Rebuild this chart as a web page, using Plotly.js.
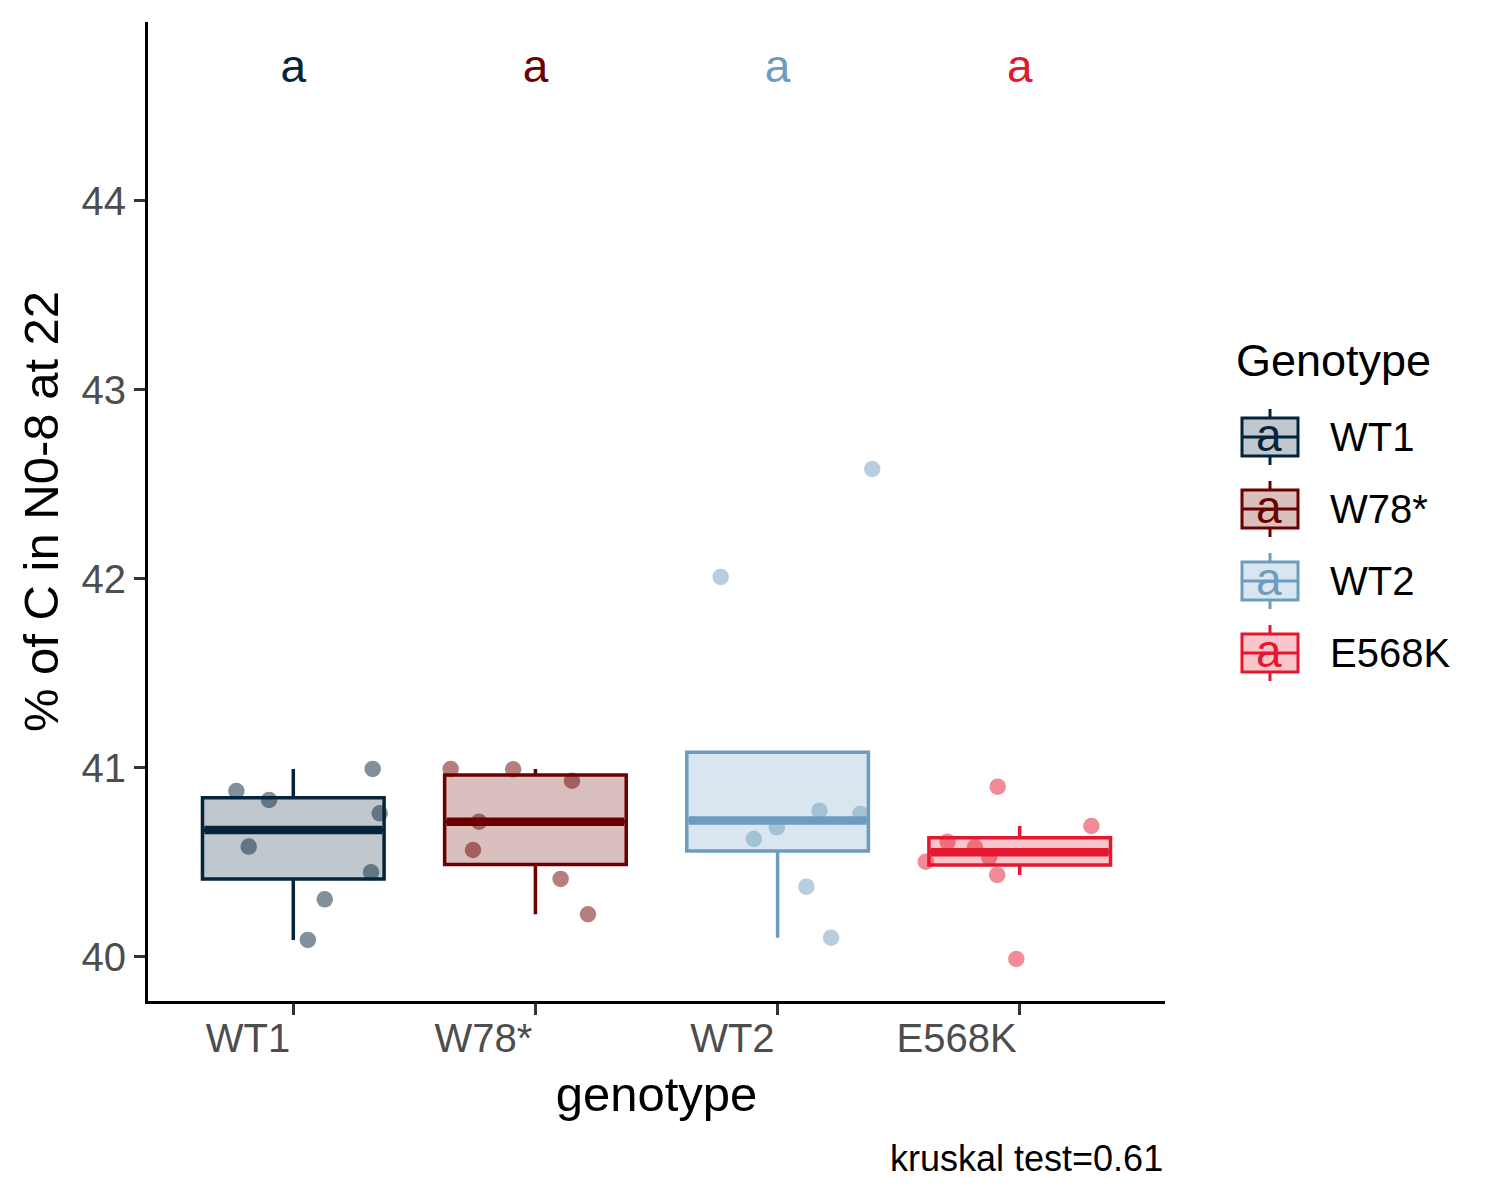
<!DOCTYPE html>
<html>
<head>
<meta charset="utf-8">
<script src="https://cdn.plot.ly/plotly-3.0.1.min.js"></script>
<style>
  html, body { margin: 0; padding: 0; background: #fff; }
  #chart { width: 1500px; height: 1200px; }
</style>
</head>
<body>
<div id="chart"></div>
<script>
// genotypes and colours
const genotypes = ['WT1', 'W78*', 'WT2', 'E568K'];
const colors = ['#03243A', '#6B0000', '#6D9DBE', '#E3172F'];

// % of C values per genotype
const wt1Values   = [40.995, 40.878, 40.831, 40.760, 40.584, 40.448, 40.305, 40.090];
const w78Values   = [40.995, 40.993, 40.933, 40.716, 40.566, 40.413, 40.226];
const wt2Values   = [40.774, 40.757, 40.686, 40.624, 40.372, 40.102, 42.011, 42.582];
const e568kValues = [40.901, 40.693, 40.610, 40.580, 40.527, 40.504, 40.434, 39.989];

// horizontal jitter of each point, in category units
const wt1Jitter   = [0.328, -0.235, -0.100, 0.357, -0.184, 0.321, 0.130, 0.060];
const w78Jitter   = [-0.350, -0.092, 0.151, -0.233, -0.258, 0.104, 0.217];
const wt2Jitter   = [0.173, 0.342, -0.003, -0.098, 0.119, 0.221, -0.235, 0.391];
const e568kJitter = [-0.091, 0.296, -0.298, -0.185, -0.126, -0.388, -0.093, -0.014];

// compact letter display
const letters = ['a', 'a', 'a', 'a'];
const letterY = [44.69, 44.69, 44.69, 44.69];

const caption = 'kruskal test=0.61';

const allValues = [wt1Values, w78Values, wt2Values, e568kValues];
const allJitter = [wt1Jitter, w78Jitter, wt2Jitter, e568kJitter];

const FONT = '"Liberation Sans", Arial, sans-serif';
const boxWidth = 0.75;

function rgba(hex, a) {
  const n = parseInt(hex.slice(1), 16);
  return 'rgba(' + (n >> 16) + ',' + ((n >> 8) & 255) + ',' + (n & 255) + ',' + a + ')';
}

// R type 7 quantile, same as ggplot's stat_boxplot
function quantile(sorted, p) {
  const h = (sorted.length - 1) * p;
  const lo = Math.floor(h);
  const hi = Math.min(lo + 1, sorted.length - 1);
  return sorted[lo] + (h - lo) * (sorted[hi] - sorted[lo]);
}

function boxStats(values) {
  const s = values.slice().sort((a, b) => a - b);
  const q1 = quantile(s, 0.25), med = quantile(s, 0.5), q3 = quantile(s, 0.75);
  const iqr = q3 - q1;
  const inside = s.filter(v => v >= q1 - 1.5 * iqr && v <= q3 + 1.5 * iqr);
  return {
    q1: q1, median: med, q3: q3,
    lf: Math.min(q1, inside[0]),
    uf: Math.max(q3, inside[inside.length - 1])
  };
}

let data = [];
let medians = [];

// boxes
for (var i = 0; i < genotypes.length; i++) {
  const st = boxStats(allValues[i]);
  data.push({
    type: 'box',
    x: [i],
    q1: [st.q1],
    median: [st.median],
    q3: [st.q3],
    lowerfence: [st.lf],
    upperfence: [st.uf],
    width: boxWidth,
    whiskerwidth: 0,
    boxpoints: false,
    fillcolor: rgba(colors[i], 0.25),
    line: { color: colors[i], width: 3.5 },
    hoverinfo: 'skip',
    showlegend: false
  });
  // thicker median, like ggplot's fatten
  medians.push({
    type: 'scatter',
    mode: 'lines',
    x: [i - boxWidth / 2 + 0.008, i + boxWidth / 2 - 0.008],
    y: [st.median, st.median],
    line: { color: colors[i], width: 8.5 },
    hoverinfo: 'skip',
    showlegend: false
  });
}
data = data.concat(medians);

// jittered points
for (var i = 0; i < genotypes.length; i++) {
  data.push({
    type: 'scatter',
    mode: 'markers',
    x: allJitter[i].map(j => i + j),
    y: allValues[i],
    marker: { color: colors[i], size: 16.5, opacity: 0.5, line: { width: 0 } },
    name: genotypes[i],
    showlegend: false
  });
}

// letters above the boxes
data.push({
  type: 'scatter',
  mode: 'text',
  x: genotypes.map((g, i) => i),
  y: letterY,
  text: letters,
  textposition: 'middle center',
  textfont: { family: FONT, size: 46, color: colors },
  hoverinfo: 'skip',
  showlegend: false
});

// hand made legend (ggplot style keys), paper coordinates
const plotL = 148, plotT = 22, plotW = 1017, plotH = 979;
const px = x => (x - plotL) / plotW;
const py = y => (plotT + plotH - y) / plotH;

let shapes = [];
let annotations = [];

annotations.push({
  xref: 'paper', yref: 'paper', x: px(1234), y: py(360),
  xanchor: 'left', yanchor: 'middle', showarrow: false,
  text: 'Genotype', font: { family: FONT, size: 45, color: '#000' }
});

for (var i = 0; i < genotypes.length; i++) {
  const c = 437 + i * 72;
  shapes.push({
    type: 'line', xref: 'paper', yref: 'paper',
    x0: px(1270), x1: px(1270), y0: py(c - 28), y1: py(c + 28),
    line: { color: colors[i], width: 3 }, layer: 'above'
  });
  shapes.push({
    type: 'rect', xref: 'paper', yref: 'paper',
    x0: px(1242), x1: px(1298), y0: py(c - 19), y1: py(c + 19),
    fillcolor: '#ffffff', line: { width: 0 }, layer: 'above'
  });
  shapes.push({
    type: 'rect', xref: 'paper', yref: 'paper',
    x0: px(1242), x1: px(1298), y0: py(c - 19), y1: py(c + 19),
    fillcolor: rgba(colors[i], 0.25), line: { color: colors[i], width: 3 }, layer: 'above'
  });
  shapes.push({
    type: 'line', xref: 'paper', yref: 'paper',
    x0: px(1242), x1: px(1298), y0: py(c), y1: py(c),
    line: { color: colors[i], width: 3 }, layer: 'above'
  });
  annotations.push({
    xref: 'paper', yref: 'paper', x: px(1269), y: py(c - 2),
    xanchor: 'center', yanchor: 'middle', showarrow: false,
    text: letters[i], font: { family: FONT, size: 46, color: colors[i] }
  });
  annotations.push({
    xref: 'paper', yref: 'paper', x: px(1328), y: py(c),
    xanchor: 'left', yanchor: 'middle', showarrow: false,
    text: genotypes[i], font: { family: FONT, size: 40, color: '#000' }
  });
}

// test result caption
annotations.push({
  xref: 'paper', yref: 'paper', x: 1, y: py(1158),
  xanchor: 'right', yanchor: 'middle', showarrow: false,
  text: caption, font: { family: FONT, size: 36, color: '#000' }
});

const layout = {
  width: 1500,
  height: 1200,
  margin: { l: plotL, r: 1500 - plotL - plotW, t: plotT, b: 1200 - plotT - plotH, pad: 0 },
  paper_bgcolor: '#ffffff',
  plot_bgcolor: '#ffffff',
  font: { family: FONT, color: '#000' },
  showlegend: false,
  xaxis: {
    range: [-0.6, 3.6],
    tickvals: genotypes.map((g, i) => i),
    ticktext: genotypes,
    ticklabelposition: 'outside left',
    ticks: 'outside',
    ticklen: 11,
    tickwidth: 3,
    tickcolor: '#333333',
    tickfont: { family: FONT, size: 40, color: '#4D4D4D' },
    showline: true,
    linecolor: '#000000',
    linewidth: 3,
    showgrid: false,
    zeroline: false,
    automargin: false,
    title: { text: 'genotype', font: { family: FONT, size: 49, color: '#000' }, standoff: 18 }
  },
  yaxis: {
    range: [39.767, 44.947],
    tickvals: [40, 41, 42, 43, 44],
    ticks: 'outside',
    ticklen: 11,
    tickwidth: 3,
    tickcolor: '#333333',
    tickfont: { family: FONT, size: 40, color: '#4D4D4D' },
    showline: true,
    linecolor: '#000000',
    linewidth: 3,
    showgrid: false,
    zeroline: false,
    automargin: false,
    title: { text: '% of C in N0-8 at 22', font: { family: FONT, size: 49, color: '#000' }, standoff: 8 }
  },
  shapes: shapes,
  annotations: annotations
};

Plotly.newPlot('chart', data, layout, { displayModeBar: false, staticPlot: true });
</script>
</body>
</html>
